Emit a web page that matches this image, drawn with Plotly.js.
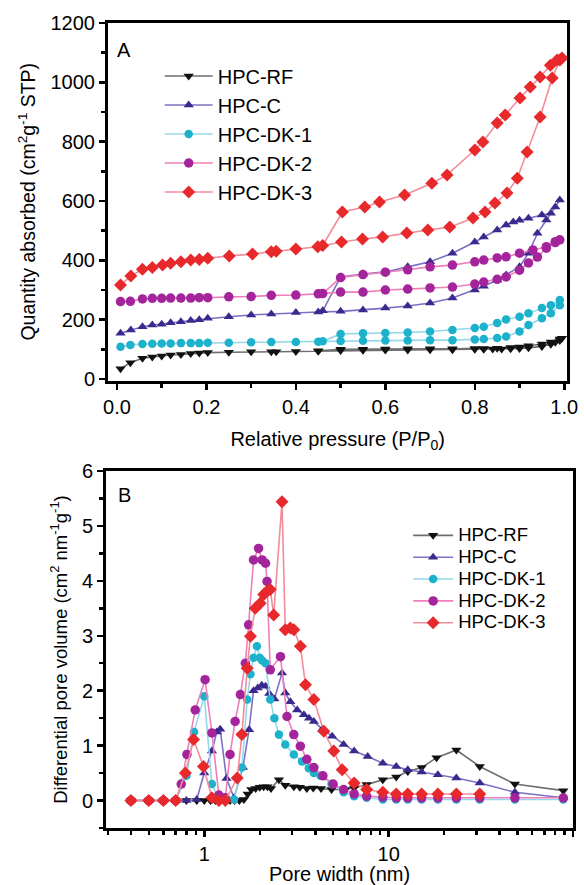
<!DOCTYPE html>
<html>
<head>
<meta charset="utf-8">
<script src="https://cdn.plot.ly/plotly-3.0.1.min.js"></script>
<style>html,body{margin:0;padding:0;background:#fff;}#chart{width:584px;height:885px;}</style>
</head>
<body>
<div id="chart"></div>
<script>
// ---------- DATA ----------
const seriesNames = ['HPC-RF', 'HPC-C', 'HPC-DK-1', 'HPC-DK-2', 'HPC-DK-3'];

// Panel A: N2 isotherms (adsorption branch then desorption branch)
const pRF  = [0.008,0.03,0.057,0.079,0.10,0.12,0.143,0.165,0.184,0.203,0.25,0.30,0.345,0.356,0.40,0.45,0.50,0.55,0.60,0.65,0.70,0.75,0.80,0.82,0.84,0.86,0.88,0.90,0.92,0.95,0.97,0.98,0.99,0.995,
              0.99,0.97,0.95,0.92,0.90,0.88,0.85,0.82,0.80,0.75,0.70,0.65,0.60,0.55,0.50,0.45];
const qRF  = [35,55,70,74,78,81,83,86,88,89,90,92,92,92,93,94,96,97,98,98,99,99,100,100,101,101,102,103,105,110,117,124,130,137,
              135,125,118,112,108,106,104,103,103,102,102,102,101,100,100,95];

const pC   = [0.008,0.031,0.057,0.079,0.10,0.12,0.143,0.165,0.184,0.203,0.25,0.30,0.345,0.40,0.45,0.50,0.55,0.60,0.65,0.70,0.75,0.80,0.82,0.85,0.87,0.90,0.92,0.94,0.96,0.98,0.99,
              0.97,0.95,0.92,0.90,0.886,0.87,0.85,0.82,0.80,0.75,0.70,0.65,0.60,0.55,0.50,0.46];
const qC   = [154,165,176,182,185,190,193,197,200,205,210,216,219,224,226,228,233,239,246,256,273,300,313,334,351,378,424,491,536,580,603,
              559,553,542,535,529,519,502,479,462,424,395,378,361,354,344,230];

const pDK1 = [0.008,0.03,0.057,0.079,0.10,0.12,0.143,0.165,0.184,0.203,0.25,0.30,0.345,0.40,0.45,0.50,0.55,0.60,0.65,0.70,0.75,0.80,0.82,0.85,0.87,0.90,0.92,0.95,0.97,0.99,
              0.99,0.97,0.95,0.92,0.90,0.87,0.85,0.82,0.80,0.75,0.70,0.65,0.60,0.55,0.50,0.46];
const qDK1 = [109,115,118,119,120,120,121,121,121,122,122,124,125,125,126,128,129,130,130,131,131,133,135,138,143,160,182,205,222,249,
              266,249,239,222,210,201,189,176,172,165,160,157,155,154,152,127];

const pDK2 = [0.008,0.03,0.057,0.079,0.10,0.12,0.143,0.165,0.184,0.203,0.25,0.30,0.345,0.40,0.45,0.50,0.55,0.60,0.65,0.70,0.75,0.80,0.82,0.85,0.87,0.90,0.92,0.94,0.96,0.98,0.99,
              0.98,0.96,0.93,0.90,0.87,0.85,0.82,0.80,0.75,0.70,0.65,0.60,0.55,0.50,0.46];
const qDK2 = [261,262,270,272,272,273,273,273,274,274,277,278,282,283,287,293,293,300,303,307,310,320,327,336,344,367,391,411,441,460,469,
              463,446,435,424,412,408,401,395,384,378,368,360,352,342,288];

const pDK3 = [0.008,0.031,0.057,0.079,0.102,0.12,0.143,0.165,0.184,0.203,0.251,0.303,0.345,0.356,0.40,0.449,0.502,0.549,0.594,0.648,0.695,0.744,0.796,0.823,0.845,0.872,0.895,0.917,0.946,0.973,0.99,
              0.995,0.984,0.969,0.946,0.924,0.901,0.868,0.85,0.818,0.80,0.738,0.704,0.643,0.587,0.554,0.504,0.46];
const qDK3 = [317,347,370,376,384,390,395,401,403,407,415,421,429,431,438,446,462,472,479,492,502,512,543,563,593,627,677,765,883,1015,1075,
              1082,1075,1058,1018,984,947,890,863,799,772,688,660,620,597,580,563,450];

// Panel B: pore size distributions
const wRF  = [0.4,0.5,0.6,0.7,0.8,0.91,1.0,1.08,1.15,1.22,1.3,1.38,1.46,1.55,1.64,1.72,1.8,1.9,2.0,2.1,2.2,2.3,2.54,2.75,3.06,3.3,3.6,3.9,4.3,4.9,5.8,6.5,7.6,9.3,11,12.7,15.1,18.2,23.3,31.2,48.4,88.6];
const dvRF = [0,0,0,0,0,0,0,0,0,0,0,0,0,0,0.02,0.12,0.2,0.22,0.24,0.25,0.25,0.22,0.38,0.28,0.25,0.24,0.22,0.23,0.22,0.2,0.2,0.23,0.29,0.38,0.43,0.53,0.6,0.78,0.92,0.62,0.3,0.18];

const wC   = [0.4,0.5,0.6,0.7,0.8,0.91,1.0,1.1,1.17,1.22,1.32,1.45,1.62,1.75,1.85,1.95,2.05,2.15,2.25,2.4,2.64,2.75,2.93,3.19,3.47,3.7,3.93,4.36,4.94,5.7,6.5,7.7,9.3,11,12.7,15.1,18.5,23.3,31.2,48.4,88.6];
const dvC  = [0,0,0,0,0,0.02,0.5,0.9,1.25,1.3,0.4,0.05,0.6,1.29,2.0,2.05,2.1,2.08,1.95,1.85,2.32,1.96,1.8,1.65,1.56,1.5,1.44,1.3,1.17,1.02,0.9,0.8,0.68,0.62,0.56,0.52,0.47,0.41,0.32,0.15,0.05];

const wDK1  = [0.4,0.5,0.6,0.7,0.8,0.88,1.0,1.1,1.2,1.3,1.45,1.6,1.71,1.78,1.85,1.93,2.0,2.06,2.15,2.28,2.4,2.54,2.75,3.06,3.39,3.69,3.93,4.27,4.9,5.7,6.5,7.6,9.3,11,12.7,15.1,18.5,23.3,31.2,48.4,88.6];
const dvDK1 = [0,0,0,0,0.45,1.25,1.9,0.3,0.02,0,0.02,0.6,1.84,2.3,2.6,2.81,2.6,2.55,2.5,1.84,1.5,1.2,1.02,0.84,0.71,0.59,0.5,0.45,0.3,0.15,0.08,0.05,0.02,0.02,0.02,0.02,0.02,0.02,0.02,0.02,0.02];

const wDK2  = [0.4,0.5,0.6,0.7,0.75,0.805,0.893,1.01,1.1,1.2,1.3,1.38,1.47,1.57,1.67,1.74,1.85,1.97,2.06,2.15,2.19,2.28,2.59,2.81,3.06,3.32,3.6,3.93,4.4,5.0,5.7,6.5,7.6,9.3,11,12.7,15.1,18.5,23.3,31.2,48.4,88.6];
const dvDK2 = [0,0,0,0,0.3,0.84,1.65,2.2,1.23,0.1,0.05,0.84,1.44,1.93,2.5,3.2,4.38,4.59,4.38,4.32,3.99,2.38,2.62,1.53,1.2,0.99,0.75,0.6,0.45,0.3,0.2,0.12,0.08,0.06,0.05,0.05,0.05,0.05,0.05,0.05,0.05,0.05];

const wDK3  = [0.4,0.5,0.6,0.7,0.79,0.875,0.99,1.1,1.2,1.3,1.51,1.6,1.71,1.78,1.89,2.01,2.1,2.19,2.28,2.38,2.64,2.75,2.93,3.06,3.32,3.54,3.93,4.45,5.04,5.6,6.5,7.6,9.3,11,12.7,15.1,18.5,23.3,31.2];
const dvDK3 = [0,0,0,0,0.5,1.11,0.62,0.05,0,0,0.41,1.2,2.41,2.99,3.5,3.59,3.75,3.81,3.84,3.38,5.44,3.11,3.14,3.11,2.81,2.11,1.84,1.26,0.9,0.56,0.32,0.2,0.15,0.12,0.12,0.12,0.12,0.12,0.12];

// ---------- STYLE ----------
const markerColors = ['#111111', '#3a2a8e', '#1db2cb', '#a3249b', '#e8292c'];
const lineColors   = ['#6e6e6e', '#7c70c4', '#93d9e8', '#ef7fb8', '#f28d9b'];
const symbols      = ['triangle-down', 'triangle-up', 'circle', 'circle', 'diamond'];
const msizes       = [9, 9, 8.5, 9.5, 10];

const xA = [pRF, pC, pDK1, pDK2, pDK3];
const yA = [qRF, qC, qDK1, qDK2, qDK3];
const xB = [wRF, wC, wDK1, wDK2, wDK3];
const yB = [dvRF, dvC, dvDK1, dvDK2, dvDK3];

const traces = [];
seriesNames.forEach((n, i) => {
  traces.push({
    type: 'scatter', mode: 'lines+markers', x: xA[i], y: yA[i], name: n,
    xaxis: 'x', yaxis: 'y', legend: 'legend',
    line: {color: lineColors[i], width: 1.6},
    marker: {color: markerColors[i], symbol: symbols[i], size: msizes[i]},
    cliponaxis: true
  });
});
seriesNames.forEach((n, i) => {
  traces.push({
    type: 'scatter', mode: 'lines+markers', x: xB[i], y: yB[i],
    name: '<span style="font-size:18.5px">' + n + '</span>',
    xaxis: 'x2', yaxis: 'y2', legend: 'legend2',
    line: {color: lineColors[i], width: 1.6},
    marker: {color: markerColors[i], symbol: symbols[i], size: msizes[i]},
    cliponaxis: true
  });
});

const FONT = 'Liberation Sans, Arial, sans-serif';
const axisCommon = {
  showline: true, linewidth: 3, linecolor: '#000', mirror: true,
  showgrid: false, zeroline: false,
  ticks: 'outside', ticklen: 6, tickwidth: 2.5, tickcolor: '#000',
  tickfont: {family: FONT, size: 20, color: '#000'},
};

const layout = {
  width: 584, height: 885,
  margin: {l: 106, r: 11, t: 23, b: 57},
  paper_bgcolor: '#fff', plot_bgcolor: '#fff',
  font: {family: FONT, color: '#000'},
  xaxis: Object.assign({}, axisCommon, {
    domain: [0.0043, 0.988], anchor: 'y', range: [-0.02, 1.007],
    tick0: 0, dtick: 0.2, tickformat: '.1f',
    minor: {dtick: 0.1, tick0: 0, ticks: 'outside', ticklen: 4, tickwidth: 2.5, tickcolor: '#000', showgrid: false},
    title: {text: 'Relative pressure (P/P<sub>0</sub>)', font: {family: FONT, size: 20}, standoff: 16}
  }),
  yaxis: Object.assign({}, axisCommon, {
    domain: [0.5559, 1], anchor: 'x', range: [-5, 1200],
    tick0: 0, dtick: 200,
    minor: {dtick: 100, tick0: 0, ticks: 'outside', ticklen: 4, tickwidth: 2.5, tickcolor: '#000', showgrid: false},
    title: {text: 'Quantity absorbed (cm<sup>2</sup>g<sup>-1</sup> STP)', font: {family: FONT, size: 19.5}, standoff: 10}
  }),
  xaxis2: Object.assign({}, axisCommon, {
    domain: [0, 1], anchor: 'y2', type: 'log', range: [-0.533, 2.0],
    dtick: 1,
    minor: {dtick: 'D1', ticks: 'outside', ticklen: 4, tickwidth: 2.5, tickcolor: '#000', showgrid: false},
    title: {text: 'Pore width (nm)', font: {family: FONT, size: 20}, standoff: 6}
  }),
  yaxis2: Object.assign({}, axisCommon, {
    domain: [0, 0.4435], anchor: 'x2', range: [-0.5, 6],
    tick0: 0, dtick: 1,
    minor: {dtick: 0.5, tick0: 0, ticks: 'outside', ticklen: 4, tickwidth: 2.5, tickcolor: '#000', showgrid: false},
    title: {text: 'Differential pore volume (cm<sup>2</sup> nm<sup>-1</sup>g<sup>-1</sup>)', font: {family: FONT, size: 18.5}, standoff: 10}
  }),
  legend: {
    x: 0.115, y: 0.9584, xanchor: 'left', yanchor: 'top',
    bgcolor: 'rgba(0,0,0,0)', borderwidth: 0,
    font: {family: FONT, size: 20, color: '#000'},
    itemwidth: 48, traceorder: 'normal', itemclick: false
  },
  legend2: {
    x: 0.647, y: 0.3833, xanchor: 'left', yanchor: 'top',
    bgcolor: 'rgba(0,0,0,0)', borderwidth: 0,
    font: {family: FONT, size: 14.5, color: '#000'},
    itemwidth: 40, traceorder: 'normal', itemclick: false
  },
  annotations: [
    {text: 'A', xref: 'paper', yref: 'paper', x: 0.0385, y: 0.9665, xanchor: 'center', yanchor: 'middle', showarrow: false, font: {family: FONT, size: 20, color: '#000'}},
    {text: 'B', xref: 'paper', yref: 'paper', x: 0.04, y: 0.4137, xanchor: 'center', yanchor: 'middle', showarrow: false, font: {family: FONT, size: 20, color: '#000'}}
  ],
  showlegend: true
};

Plotly.newPlot('chart', traces, layout, {displayModeBar: false, staticPlot: true});
</script>
</body>
</html>
